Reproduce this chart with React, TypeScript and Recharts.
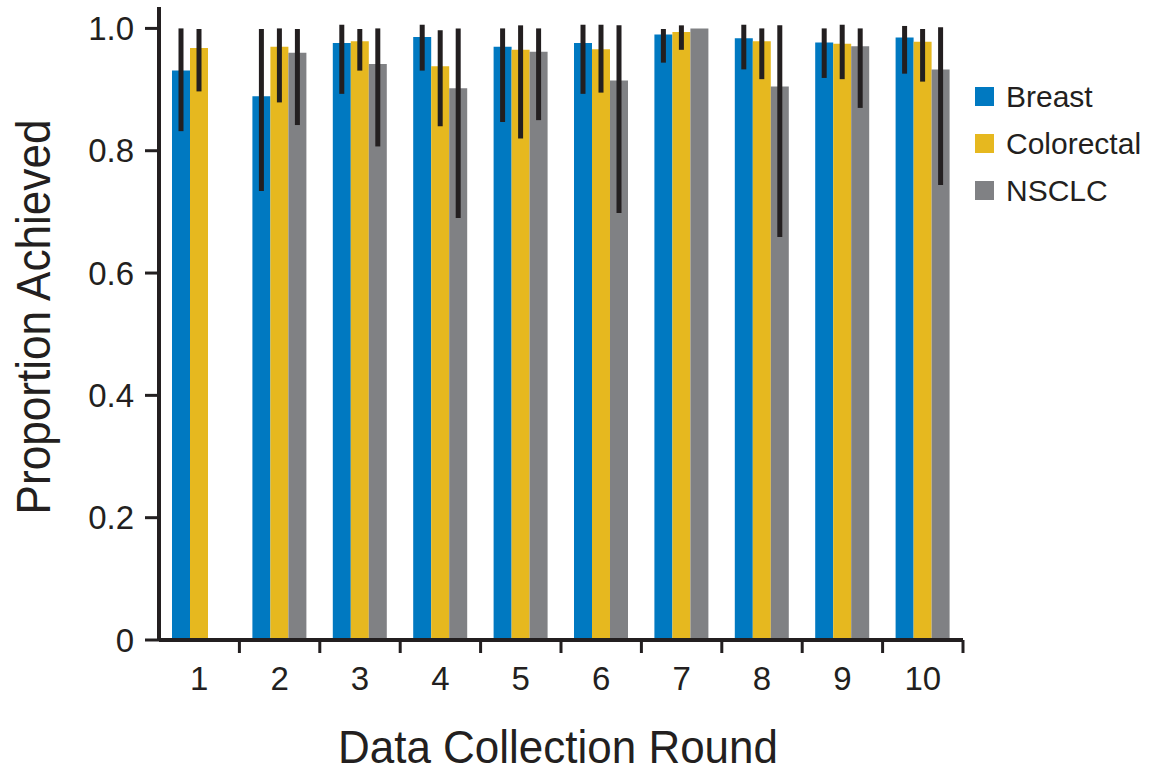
import { BarChart, Bar, XAxis, YAxis, ErrorBar } from 'recharts';

// Valores (proporção atingida por rodada)
const rounds = ['1', '2', '3', '4', '5', '6', '7', '8', '9', '10'];

const breast = [0.931, 0.889, 0.976, 0.986, 0.970, 0.976, 0.990, 0.984, 0.977, 0.985];
const breastLow = [0.832, 0.734, 0.893, 0.931, 0.847, 0.893, 0.944, 0.933, 0.919, 0.926];
const breastHigh = [1.0, 0.999, 1.006, 1.006, 1.0, 1.006, 0.999, 1.006, 1.0, 1.004];

const colorectal = [0.968, 0.970, 0.979, 0.938, 0.965, 0.966, 0.994, 0.979, 0.975, 0.978];
const colorectalLow = [0.897, 0.879, 0.931, 0.840, 0.820, 0.895, 0.965, 0.917, 0.917, 0.913];
const colorectalHigh = [0.999, 1.0, 0.999, 0.997, 1.005, 1.006, 1.005, 1.0, 1.006, 0.999];

const nsclc = [null, 0.960, 0.942, 0.902, 0.962, 0.915, 1.0, 0.905, 0.971, 0.933];
const nsclcLow = [null, 0.842, 0.807, 0.690, 0.850, 0.698, null, 0.659, 0.870, 0.744];
const nsclcHigh = [null, 0.999, 1.0, 1.0, 1.0, 1.005, null, 1.005, 1.0, 1.002];

const yTicks = [0, 0.2, 0.4, 0.6, 0.8, 1.0];

const COLORS = {
  breast: '#0079C1',
  colorectal: '#E6B81F',
  nsclc: '#808184',
  ink: '#231F20',
};

const FONT = '"Liberation Sans", Arial, sans-serif';

// delta [baixo, cima] relativo ao valor, como o ErrorBar espera
const toErr = (v: number | null, lo: number | null, hi: number | null) =>
  v == null || lo == null || hi == null ? [0, 0] : [v - lo, hi - v];

const data = rounds.map((r, i) => ({
  round: r,
  breast: breast[i],
  breastErr: toErr(breast[i], breastLow[i], breastHigh[i]),
  colorectal: colorectal[i],
  colorectalErr: toErr(colorectal[i], colorectalLow[i], colorectalHigh[i]),
  nsclc: nsclc[i],
  nsclcErr: toErr(nsclc[i], nsclcLow[i], nsclcHigh[i]),
}));

const legendItems = [
  { name: 'Breast', color: COLORS.breast },
  { name: 'Colorectal', color: COLORS.colorectal },
  { name: 'NSCLC', color: COLORS.nsclc },
];

const AXIS_Y = 640;
const BAND = 80.4;

const renderXTick = (props: any) => {
  const { x, payload } = props;
  return (
    <g>
      <line x1={x + BAND / 2} x2={x + BAND / 2} y1={AXIS_Y} y2={AXIS_Y + 13} stroke={COLORS.ink} strokeWidth={3} />
      <text x={x} y={690} textAnchor="middle" fontSize={33} fontFamily={FONT} fill={COLORS.ink}>
        {payload.value}
      </text>
    </g>
  );
};

export default function App() {
  return (
    <div style={{ position: 'absolute', left: 0, top: 0, width: 1151, height: 774, background: '#fff' }}>
      <BarChart
        width={1151}
        height={774}
        data={data}
        margin={{ top: 7, right: 188, bottom: 0, left: 0 }}
        barSize={18}
        barGap={0}
      >
        <XAxis
          dataKey="round"
          height={134}
          axisLine={{ stroke: COLORS.ink, strokeWidth: 4 }}
          tickLine={false}
          tick={renderXTick}
          interval={0}
          label={{
            content: () => (
              <text
                x={558}
                y={763}
                textAnchor="middle"
                fontSize={46}
                fontFamily={FONT}
                fill={COLORS.ink}
                textLength={440}
                lengthAdjust="spacingAndGlyphs"
              >
                Data Collection Round
              </text>
            ),
          }}
        />
        <YAxis
          width={159}
          domain={[0, 1.035]}
          allowDataOverflow
          ticks={yTicks}
          tickFormatter={(v: number) => (v === 0 ? '0' : v.toFixed(1))}
          axisLine={{ stroke: COLORS.ink, strokeWidth: 4 }}
          tickLine={{ stroke: COLORS.ink, strokeWidth: 3 }}
          tickSize={14}
          tickMargin={11}
          tick={{ fontSize: 33, fontFamily: FONT, fill: COLORS.ink }}
          label={{
            content: () => (
              <text
                x={50}
                y={317}
                transform="rotate(-90 50 317)"
                textAnchor="middle"
                fontSize={48}
                fontFamily={FONT}
                fill={COLORS.ink}
                textLength={395}
                lengthAdjust="spacingAndGlyphs"
              >
                Proportion Achieved
              </text>
            ),
          }}
        />
        <Bar dataKey="breast" name="Breast" fill={COLORS.breast} isAnimationActive={false}>
          <ErrorBar dataKey="breastErr" width={0} stroke={COLORS.ink} strokeWidth={5} />
        </Bar>
        <Bar dataKey="colorectal" name="Colorectal" fill={COLORS.colorectal} isAnimationActive={false}>
          <ErrorBar dataKey="colorectalErr" width={0} stroke={COLORS.ink} strokeWidth={5} />
        </Bar>
        <Bar dataKey="nsclc" name="NSCLC" fill={COLORS.nsclc} isAnimationActive={false}>
          <ErrorBar dataKey="nsclcErr" width={0} stroke={COLORS.ink} strokeWidth={5} />
        </Bar>
      </BarChart>
      {/* legenda sobreposta, fora da área do gráfico */}
      <div style={{ position: 'absolute', left: 975, top: 73, fontFamily: FONT }}>
        {legendItems.map((it) => (
          <div key={it.name} style={{ display: 'flex', alignItems: 'center', height: 47 }}>
            <div style={{ width: 19, height: 19, background: it.color, marginRight: 12 }} />
            <span style={{ fontSize: 30, color: COLORS.ink, lineHeight: '47px' }}>{it.name}</span>
          </div>
        ))}
      </div>
    </div>
  );
}
